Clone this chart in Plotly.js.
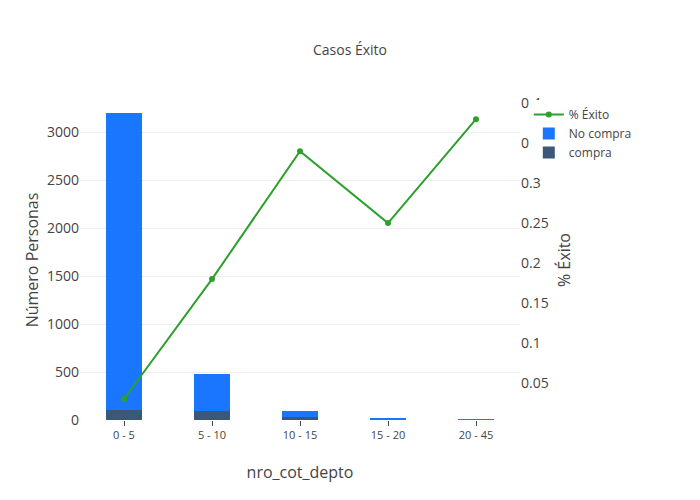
<!DOCTYPE html>
<html><head><meta charset="utf-8">
<script src="https://cdn.plot.ly/plotly-3.0.0.min.js"></script>
</head><body style="margin:0">
<div id="chart" style="width:700px;height:500px"></div>
<script>
var categories = ["0 - 5", "5 - 10", "10 - 15", "15 - 20", "20 - 45"];
var compra = [105, 90, 30, 5, 3];
var noCompra = [3095, 390, 65, 15, 5];
var exito = [0.03, 0.18, 0.34, 0.25, 0.38];

var data = [
  { x: categories, y: compra, type: "bar", name: "compra", marker: { color: "#3b5878" }, width: 0.4 },
  { x: categories, y: noCompra, type: "bar", name: "No compra", marker: { color: "#1b76ff" }, width: 0.4 },
  { x: categories, y: exito, type: "scatter", mode: "lines+markers", name: "% Éxito",
    yaxis: "y2", line: { color: "#2ca02c", width: 2 }, marker: { color: "#2ca02c", size: 6 } }
];

var layout = {
  title: { text: "Casos Éxito", font: { size: 14, color: "#444" }, y: 0.91 },
  font: { family: "Open Sans", color: "#444" },
  barmode: "stack",
  margin: { l: 80, r: 180, t: 100, b: 80 },
  xaxis: { title: { text: "nro_cot_depto", font: { size: 16 } }, ticks: "outside", ticklen: 5, tickcolor: "#444", tickfont: { size: 11 } },
  yaxis: { title: { text: "Número Personas", font: { size: 16 } }, range: [0, 3337], tickfont: { size: 14 }, gridcolor: "#eee", zeroline: false },
  yaxis2: { title: { text: "% Éxito", font: { size: 16 } }, overlaying: "y", side: "right", range: [0.00375, 0.404],
    dtick: 0.05, tickfont: { size: 14 }, showgrid: false, showline: false, zeroline: false },
  legend: { x: 1.02, y: 1, font: { size: 12 } },
  plot_bgcolor: "white", paper_bgcolor: "white"
};

Plotly.newPlot("chart", data, layout, { displayModeBar: false });
</script>
</body></html>
